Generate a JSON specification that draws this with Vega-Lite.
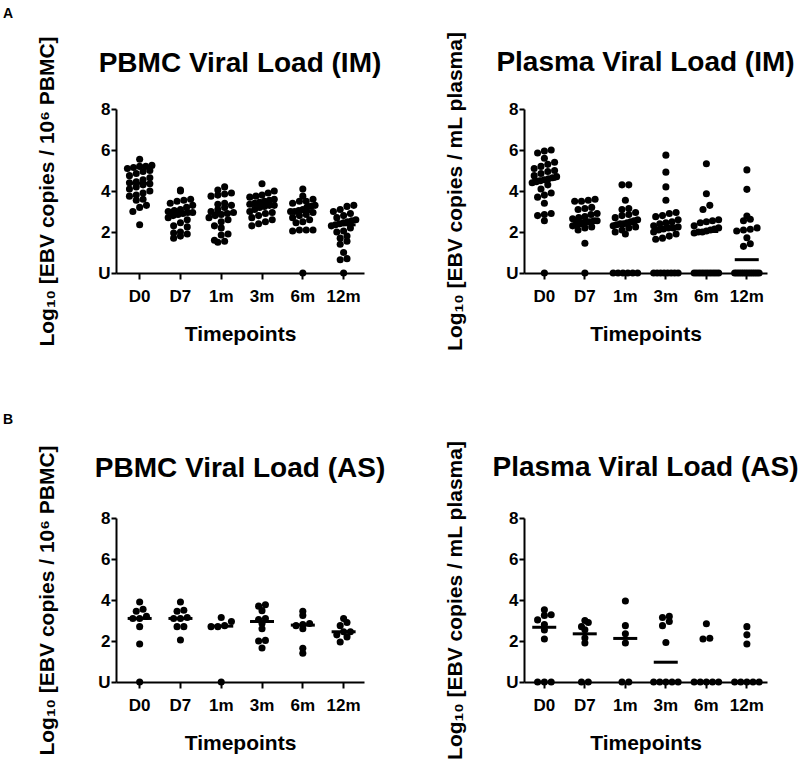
{
  "$schema": "https://vega.github.io/schema/vega-lite/v6.json",
  "padding": {"left": 3, "top": 7, "right": 3, "bottom": 5},
  "background": "white",
  "config": {
    "font": "Liberation Sans",
    "view": {"stroke": null},
    "axis": {"grid": false, "domainColor": "black", "domainWidth": 2, "tickColor": "black", "tickWidth": 2, "labelColor": "black", "titleColor": "black", "labelFont": "Liberation Sans", "titleFont": "Liberation Sans", "labelFontWeight": "bold", "titleFontWeight": "bold", "labelFontSize": 17},
    "axisX": {"labelAngle": 0, "tickSize": 6, "labelPadding": 9, "titleFontSize": 21, "titlePadding": 19, "labelOverlap": false, "labelBound": false},
    "axisY": {"labelPadding": 1, "titleFontSize": 21, "titlePadding": 40},
    "title": {"font": "Liberation Sans", "fontWeight": "bold", "color": "black"}
  },
  "data": {"values": [
    {"p":"PI","t":"D0","v":5.55},{"p":"PI","t":"D0","v":5.25},{"p":"PI","t":"D0","v":5.2},{"p":"PI","t":"D0","v":5.2},{"p":"PI","t":"D0","v":5.15},{"p":"PI","t":"D0","v":5.1},{"p":"PI","t":"D0","v":5.0},{"p":"PI","t":"D0","v":4.95},{"p":"PI","t":"D0","v":4.85},{"p":"PI","t":"D0","v":4.75},{"p":"PI","t":"D0","v":4.65},{"p":"PI","t":"D0","v":4.55},{"p":"PI","t":"D0","v":4.45},{"p":"PI","t":"D0","v":4.4},{"p":"PI","t":"D0","v":4.35},{"p":"PI","t":"D0","v":4.3},{"p":"PI","t":"D0","v":4.2},{"p":"PI","t":"D0","v":4.1},{"p":"PI","t":"D0","v":4.0},{"p":"PI","t":"D0","v":3.9},{"p":"PI","t":"D0","v":3.8},{"p":"PI","t":"D0","v":3.75},{"p":"PI","t":"D0","v":3.6},{"p":"PI","t":"D0","v":3.55},{"p":"PI","t":"D0","v":3.3},{"p":"PI","t":"D0","v":3.2},{"p":"PI","t":"D0","v":3.0},{"p":"PI","t":"D0","v":2.35},
    {"p":"PI","t":"D7","v":4.05},{"p":"PI","t":"D7","v":4.0},{"p":"PI","t":"D7","v":3.6},{"p":"PI","t":"D7","v":3.55},{"p":"PI","t":"D7","v":3.5},{"p":"PI","t":"D7","v":3.4},{"p":"PI","t":"D7","v":3.3},{"p":"PI","t":"D7","v":3.2},{"p":"PI","t":"D7","v":3.1},{"p":"PI","t":"D7","v":3.05},{"p":"PI","t":"D7","v":3.0},{"p":"PI","t":"D7","v":2.95},{"p":"PI","t":"D7","v":2.95},{"p":"PI","t":"D7","v":2.9},{"p":"PI","t":"D7","v":2.85},{"p":"PI","t":"D7","v":2.8},{"p":"PI","t":"D7","v":2.7},{"p":"PI","t":"D7","v":2.6},{"p":"PI","t":"D7","v":2.45},{"p":"PI","t":"D7","v":2.3},{"p":"PI","t":"D7","v":2.25},{"p":"PI","t":"D7","v":2.0},{"p":"PI","t":"D7","v":1.95},{"p":"PI","t":"D7","v":1.9},{"p":"PI","t":"D7","v":1.8},{"p":"PI","t":"D7","v":1.7},
    {"p":"PI","t":"1m","v":4.2},{"p":"PI","t":"1m","v":4.05},{"p":"PI","t":"1m","v":3.9},{"p":"PI","t":"1m","v":3.85},{"p":"PI","t":"1m","v":3.8},{"p":"PI","t":"1m","v":3.75},{"p":"PI","t":"1m","v":3.4},{"p":"PI","t":"1m","v":3.35},{"p":"PI","t":"1m","v":3.3},{"p":"PI","t":"1m","v":3.2},{"p":"PI","t":"1m","v":3.1},{"p":"PI","t":"1m","v":3.0},{"p":"PI","t":"1m","v":2.95},{"p":"PI","t":"1m","v":2.9},{"p":"PI","t":"1m","v":2.85},{"p":"PI","t":"1m","v":2.8},{"p":"PI","t":"1m","v":2.7},{"p":"PI","t":"1m","v":2.6},{"p":"PI","t":"1m","v":2.5},{"p":"PI","t":"1m","v":2.3},{"p":"PI","t":"1m","v":2.2},{"p":"PI","t":"1m","v":1.9},{"p":"PI","t":"1m","v":1.85},{"p":"PI","t":"1m","v":1.6},{"p":"PI","t":"1m","v":1.55},{"p":"PI","t":"1m","v":1.5},
    {"p":"PI","t":"3m","v":4.35},{"p":"PI","t":"3m","v":4.0},{"p":"PI","t":"3m","v":3.9},{"p":"PI","t":"3m","v":3.8},{"p":"PI","t":"3m","v":3.75},{"p":"PI","t":"3m","v":3.7},{"p":"PI","t":"3m","v":3.6},{"p":"PI","t":"3m","v":3.55},{"p":"PI","t":"3m","v":3.5},{"p":"PI","t":"3m","v":3.45},{"p":"PI","t":"3m","v":3.4},{"p":"PI","t":"3m","v":3.35},{"p":"PI","t":"3m","v":3.3},{"p":"PI","t":"3m","v":3.3},{"p":"PI","t":"3m","v":3.25},{"p":"PI","t":"3m","v":3.2},{"p":"PI","t":"3m","v":3.1},{"p":"PI","t":"3m","v":3.0},{"p":"PI","t":"3m","v":2.95},{"p":"PI","t":"3m","v":2.9},{"p":"PI","t":"3m","v":2.8},{"p":"PI","t":"3m","v":2.7},{"p":"PI","t":"3m","v":2.6},{"p":"PI","t":"3m","v":2.5},{"p":"PI","t":"3m","v":2.4},{"p":"PI","t":"3m","v":2.3},
    {"p":"PI","t":"6m","v":4.1},{"p":"PI","t":"6m","v":3.75},{"p":"PI","t":"6m","v":3.6},{"p":"PI","t":"6m","v":3.5},{"p":"PI","t":"6m","v":3.5},{"p":"PI","t":"6m","v":3.4},{"p":"PI","t":"6m","v":3.3},{"p":"PI","t":"6m","v":3.25},{"p":"PI","t":"6m","v":3.2},{"p":"PI","t":"6m","v":3.1},{"p":"PI","t":"6m","v":3.05},{"p":"PI","t":"6m","v":3.0},{"p":"PI","t":"6m","v":3.0},{"p":"PI","t":"6m","v":2.95},{"p":"PI","t":"6m","v":2.85},{"p":"PI","t":"6m","v":2.8},{"p":"PI","t":"6m","v":2.7},{"p":"PI","t":"6m","v":2.6},{"p":"PI","t":"6m","v":2.5},{"p":"PI","t":"6m","v":2.45},{"p":"PI","t":"6m","v":2.1},{"p":"PI","t":"6m","v":2.1},{"p":"PI","t":"6m","v":2.1},{"p":"PI","t":"6m","v":2.05},{"p":"PI","t":"6m","v":0},
    {"p":"PI","t":"12m","v":3.3},{"p":"PI","t":"12m","v":3.25},{"p":"PI","t":"12m","v":3.1},{"p":"PI","t":"12m","v":3.0},{"p":"PI","t":"12m","v":2.9},{"p":"PI","t":"12m","v":2.8},{"p":"PI","t":"12m","v":2.7},{"p":"PI","t":"12m","v":2.6},{"p":"PI","t":"12m","v":2.55},{"p":"PI","t":"12m","v":2.5},{"p":"PI","t":"12m","v":2.45},{"p":"PI","t":"12m","v":2.4},{"p":"PI","t":"12m","v":2.35},{"p":"PI","t":"12m","v":2.3},{"p":"PI","t":"12m","v":2.2},{"p":"PI","t":"12m","v":2.05},{"p":"PI","t":"12m","v":2.0},{"p":"PI","t":"12m","v":1.8},{"p":"PI","t":"12m","v":1.7},{"p":"PI","t":"12m","v":1.55},{"p":"PI","t":"12m","v":1.4},{"p":"PI","t":"12m","v":1.0},{"p":"PI","t":"12m","v":0.7},{"p":"PI","t":"12m","v":0.65},{"p":"PI","t":"12m","v":0},

    {"p":"LI","t":"D0","v":6.0},{"p":"LI","t":"D0","v":5.95},{"p":"LI","t":"D0","v":5.85},{"p":"LI","t":"D0","v":5.6},{"p":"LI","t":"D0","v":5.4},{"p":"LI","t":"D0","v":5.3},{"p":"LI","t":"D0","v":5.2},{"p":"LI","t":"D0","v":5.1},{"p":"LI","t":"D0","v":5.0},{"p":"LI","t":"D0","v":4.95},{"p":"LI","t":"D0","v":4.85},{"p":"LI","t":"D0","v":4.75},{"p":"LI","t":"D0","v":4.7},{"p":"LI","t":"D0","v":4.65},{"p":"LI","t":"D0","v":4.6},{"p":"LI","t":"D0","v":4.55},{"p":"LI","t":"D0","v":4.5},{"p":"LI","t":"D0","v":4.45},{"p":"LI","t":"D0","v":4.4},{"p":"LI","t":"D0","v":4.3},{"p":"LI","t":"D0","v":4.1},{"p":"LI","t":"D0","v":3.9},{"p":"LI","t":"D0","v":3.8},{"p":"LI","t":"D0","v":3.7},{"p":"LI","t":"D0","v":3.4},{"p":"LI","t":"D0","v":2.9},{"p":"LI","t":"D0","v":2.85},{"p":"LI","t":"D0","v":2.8},{"p":"LI","t":"D0","v":2.55},{"p":"LI","t":"D0","v":0},
    {"p":"LI","t":"D7","v":3.6},{"p":"LI","t":"D7","v":3.55},{"p":"LI","t":"D7","v":3.5},{"p":"LI","t":"D7","v":3.5},{"p":"LI","t":"D7","v":3.2},{"p":"LI","t":"D7","v":3.15},{"p":"LI","t":"D7","v":3.1},{"p":"LI","t":"D7","v":2.9},{"p":"LI","t":"D7","v":2.85},{"p":"LI","t":"D7","v":2.75},{"p":"LI","t":"D7","v":2.7},{"p":"LI","t":"D7","v":2.65},{"p":"LI","t":"D7","v":2.55},{"p":"LI","t":"D7","v":2.55},{"p":"LI","t":"D7","v":2.5},{"p":"LI","t":"D7","v":2.5},{"p":"LI","t":"D7","v":2.45},{"p":"LI","t":"D7","v":2.4},{"p":"LI","t":"D7","v":2.4},{"p":"LI","t":"D7","v":2.35},{"p":"LI","t":"D7","v":2.3},{"p":"LI","t":"D7","v":2.25},{"p":"LI","t":"D7","v":2.2},{"p":"LI","t":"D7","v":2.1},{"p":"LI","t":"D7","v":1.45},{"p":"LI","t":"D7","v":0},
    {"p":"LI","t":"1m","v":4.3},{"p":"LI","t":"1m","v":4.3},{"p":"LI","t":"1m","v":3.55},{"p":"LI","t":"1m","v":3.15},{"p":"LI","t":"1m","v":3.1},{"p":"LI","t":"1m","v":2.95},{"p":"LI","t":"1m","v":2.85},{"p":"LI","t":"1m","v":2.8},{"p":"LI","t":"1m","v":2.7},{"p":"LI","t":"1m","v":2.6},{"p":"LI","t":"1m","v":2.55},{"p":"LI","t":"1m","v":2.5},{"p":"LI","t":"1m","v":2.45},{"p":"LI","t":"1m","v":2.4},{"p":"LI","t":"1m","v":2.4},{"p":"LI","t":"1m","v":2.35},{"p":"LI","t":"1m","v":2.3},{"p":"LI","t":"1m","v":2.25},{"p":"LI","t":"1m","v":2.2},{"p":"LI","t":"1m","v":2.1},{"p":"LI","t":"1m","v":2.0},{"p":"LI","t":"1m","v":1.9},{"p":"LI","t":"1m","v":0},{"p":"LI","t":"1m","v":0},{"p":"LI","t":"1m","v":0},{"p":"LI","t":"1m","v":0},{"p":"LI","t":"1m","v":0},{"p":"LI","t":"1m","v":0},
    {"p":"LI","t":"3m","v":5.75},{"p":"LI","t":"3m","v":4.92},{"p":"LI","t":"3m","v":4.2},{"p":"LI","t":"3m","v":3.55},{"p":"LI","t":"3m","v":2.95},{"p":"LI","t":"3m","v":2.9},{"p":"LI","t":"3m","v":2.8},{"p":"LI","t":"3m","v":2.75},{"p":"LI","t":"3m","v":2.6},{"p":"LI","t":"3m","v":2.5},{"p":"LI","t":"3m","v":2.45},{"p":"LI","t":"3m","v":2.4},{"p":"LI","t":"3m","v":2.3},{"p":"LI","t":"3m","v":2.25},{"p":"LI","t":"3m","v":2.2},{"p":"LI","t":"3m","v":2.2},{"p":"LI","t":"3m","v":2.15},{"p":"LI","t":"3m","v":2.1},{"p":"LI","t":"3m","v":2.0},{"p":"LI","t":"3m","v":1.9},{"p":"LI","t":"3m","v":1.8},{"p":"LI","t":"3m","v":1.7},{"p":"LI","t":"3m","v":1.65},{"p":"LI","t":"3m","v":0},{"p":"LI","t":"3m","v":0},{"p":"LI","t":"3m","v":0},{"p":"LI","t":"3m","v":0},{"p":"LI","t":"3m","v":0},{"p":"LI","t":"3m","v":0},{"p":"LI","t":"3m","v":0},{"p":"LI","t":"3m","v":0},
    {"p":"LI","t":"6m","v":5.33},{"p":"LI","t":"6m","v":3.87},{"p":"LI","t":"6m","v":3.3},{"p":"LI","t":"6m","v":3.1},{"p":"LI","t":"6m","v":2.6},{"p":"LI","t":"6m","v":2.55},{"p":"LI","t":"6m","v":2.5},{"p":"LI","t":"6m","v":2.45},{"p":"LI","t":"6m","v":2.3},{"p":"LI","t":"6m","v":2.2},{"p":"LI","t":"6m","v":2.15},{"p":"LI","t":"6m","v":2.1},{"p":"LI","t":"6m","v":2.05},{"p":"LI","t":"6m","v":2.0},{"p":"LI","t":"6m","v":2.0},{"p":"LI","t":"6m","v":1.95},{"p":"LI","t":"6m","v":0},{"p":"LI","t":"6m","v":0},{"p":"LI","t":"6m","v":0},{"p":"LI","t":"6m","v":0},{"p":"LI","t":"6m","v":0},{"p":"LI","t":"6m","v":0},{"p":"LI","t":"6m","v":0},{"p":"LI","t":"6m","v":0},{"p":"LI","t":"6m","v":0},{"p":"LI","t":"6m","v":0},
    {"p":"LI","t":"12m","v":5.03},{"p":"LI","t":"12m","v":4.08},{"p":"LI","t":"12m","v":2.78},{"p":"LI","t":"12m","v":2.62},{"p":"LI","t":"12m","v":2.55},{"p":"LI","t":"12m","v":2.2},{"p":"LI","t":"12m","v":2.13},{"p":"LI","t":"12m","v":2.1},{"p":"LI","t":"12m","v":2.05},{"p":"LI","t":"12m","v":1.72},{"p":"LI","t":"12m","v":1.43},{"p":"LI","t":"12m","v":1.3},{"p":"LI","t":"12m","v":0},{"p":"LI","t":"12m","v":0},{"p":"LI","t":"12m","v":0},{"p":"LI","t":"12m","v":0},{"p":"LI","t":"12m","v":0},{"p":"LI","t":"12m","v":0},{"p":"LI","t":"12m","v":0},{"p":"LI","t":"12m","v":0},{"p":"LI","t":"12m","v":0},{"p":"LI","t":"12m","v":0},{"p":"LI","t":"12m","v":0},{"p":"LI","t":"12m","v":0},

    {"p":"PA","t":"D0","v":3.9},{"p":"PA","t":"D0","v":3.55},{"p":"PA","t":"D0","v":3.45},{"p":"PA","t":"D0","v":3.2},{"p":"PA","t":"D0","v":3.1},{"p":"PA","t":"D0","v":3.1},{"p":"PA","t":"D0","v":2.7},{"p":"PA","t":"D0","v":1.85},{"p":"PA","t":"D0","v":0},
    {"p":"PA","t":"D7","v":3.9},{"p":"PA","t":"D7","v":3.5},{"p":"PA","t":"D7","v":3.45},{"p":"PA","t":"D7","v":3.15},{"p":"PA","t":"D7","v":3.1},{"p":"PA","t":"D7","v":3.1},{"p":"PA","t":"D7","v":2.7},{"p":"PA","t":"D7","v":2.7},{"p":"PA","t":"D7","v":2.05},
    {"p":"PA","t":"1m","v":3.15},{"p":"PA","t":"1m","v":2.95},{"p":"PA","t":"1m","v":2.75},{"p":"PA","t":"1m","v":2.7},{"p":"PA","t":"1m","v":2.7},{"p":"PA","t":"1m","v":0},
    {"p":"PA","t":"3m","v":3.77},{"p":"PA","t":"3m","v":3.7},{"p":"PA","t":"3m","v":3.48},{"p":"PA","t":"3m","v":3.1},{"p":"PA","t":"3m","v":3.05},{"p":"PA","t":"3m","v":2.85},{"p":"PA","t":"3m","v":2.6},{"p":"PA","t":"3m","v":2.03},{"p":"PA","t":"3m","v":2.0},{"p":"PA","t":"3m","v":1.66},
    {"p":"PA","t":"6m","v":3.45},{"p":"PA","t":"6m","v":3.25},{"p":"PA","t":"6m","v":2.85},{"p":"PA","t":"6m","v":2.8},{"p":"PA","t":"6m","v":2.75},{"p":"PA","t":"6m","v":2.6},{"p":"PA","t":"6m","v":1.65},{"p":"PA","t":"6m","v":1.4},
    {"p":"PA","t":"12m","v":3.1},{"p":"PA","t":"12m","v":2.9},{"p":"PA","t":"12m","v":2.75},{"p":"PA","t":"12m","v":2.45},{"p":"PA","t":"12m","v":2.45},{"p":"PA","t":"12m","v":2.3},{"p":"PA","t":"12m","v":2.2},{"p":"PA","t":"12m","v":1.95},

    {"p":"LA","t":"D0","v":3.52},{"p":"LA","t":"D0","v":3.28},{"p":"LA","t":"D0","v":3.25},{"p":"LA","t":"D0","v":3.03},{"p":"LA","t":"D0","v":2.8},{"p":"LA","t":"D0","v":2.54},{"p":"LA","t":"D0","v":2.1},{"p":"LA","t":"D0","v":0},{"p":"LA","t":"D0","v":0},{"p":"LA","t":"D0","v":0},
    {"p":"LA","t":"D7","v":3.0},{"p":"LA","t":"D7","v":2.9},{"p":"LA","t":"D7","v":2.7},{"p":"LA","t":"D7","v":2.55},{"p":"LA","t":"D7","v":2.15},{"p":"LA","t":"D7","v":1.9},{"p":"LA","t":"D7","v":0},{"p":"LA","t":"D7","v":0},
    {"p":"LA","t":"1m","v":3.95},{"p":"LA","t":"1m","v":2.75},{"p":"LA","t":"1m","v":2.35},{"p":"LA","t":"1m","v":1.9},{"p":"LA","t":"1m","v":0},{"p":"LA","t":"1m","v":0},
    {"p":"LA","t":"3m","v":3.2},{"p":"LA","t":"3m","v":3.15},{"p":"LA","t":"3m","v":2.95},{"p":"LA","t":"3m","v":2.75},{"p":"LA","t":"3m","v":1.93},{"p":"LA","t":"3m","v":0},{"p":"LA","t":"3m","v":0},{"p":"LA","t":"3m","v":0},{"p":"LA","t":"3m","v":0},{"p":"LA","t":"3m","v":0},
    {"p":"LA","t":"6m","v":2.84},{"p":"LA","t":"6m","v":2.13},{"p":"LA","t":"6m","v":2.1},{"p":"LA","t":"6m","v":0},{"p":"LA","t":"6m","v":0},{"p":"LA","t":"6m","v":0},{"p":"LA","t":"6m","v":0},{"p":"LA","t":"6m","v":0},
    {"p":"LA","t":"12m","v":2.7},{"p":"LA","t":"12m","v":2.3},{"p":"LA","t":"12m","v":1.85},{"p":"LA","t":"12m","v":0},{"p":"LA","t":"12m","v":0},{"p":"LA","t":"12m","v":0},{"p":"LA","t":"12m","v":0},{"p":"LA","t":"12m","v":0}
  ]},
  "bounds": "flush",
  "spacing": 409,
  "vconcat": [
    {
      "title": {"text": "A", "fontSize": 14, "anchor": "start", "frame": "group", "dx": -113, "offset": 10},
      "bounds": "flush",
      "spacing": 160,
      "hconcat": [
        {
          "width": 248, "height": 164,
          "title": {"text": "PBMC Viral Load (IM)", "fontSize": 28, "anchor": "middle", "frame": "group", "offset": -42},
          "transform": [
            {"filter": "datum.p == 'PI'"},
            {"bin": {"step": 0.35, "extent": [-0.175, 8.575], "nice": false}, "field": "v", "as": "vb"},
            {"window": [{"op": "row_number", "as": "rn"}, {"op": "count", "as": "n"}], "groupby": ["t", "vb"], "sort": [{"field": "v"}], "frame": [null, null]},
            {"calculate": "(datum.rn - (datum.n + 1) / 2) * min(1, 3.6 / max(datum.n - 1, 1))", "as": "off"}
          ],
          "layer": [
            {"mark": {"type": "circle", "size": 50, "color": "black", "opacity": 1},
             "encoding": {
               "x": {"field": "t", "type": "nominal", "sort": ["D0","D7","1m","3m","6m","12m"], "scale": {"type": "band", "paddingInner": 0, "paddingOuter": 0.04, "align": 1}, "axis": {"title": "Timepoints"}},
               "xOffset": {"field": "off", "type": "quantitative", "scale": {"domain": [-3, 3]}},
               "y": {"field": "v", "type": "quantitative", "scale": {"domain": [0, 8], "nice": false, "zero": true}, "axis": {"title": "Log₁₀ [EBV copies / 10⁶ PBMC]", "values": [0,2,4,6,8], "tickSize": 5, "labelExpr": "datum.value == 0 ? 'U' : datum.label"}}
             }},
            {"mark": {"type": "tick", "color": "black", "size": 24, "thickness": 3},
             "encoding": {
               "x": {"field": "t", "type": "nominal", "sort": ["D0","D7","1m","3m","6m","12m"]},
               "y": {"aggregate": "median", "field": "v", "type": "quantitative"}
             }}
          ]
        },
        {
          "width": 243, "height": 164,
          "title": {"text": "Plasma Viral Load (IM)", "fontSize": 28, "anchor": "middle", "frame": "group", "offset": -46},
          "transform": [
            {"filter": "datum.p == 'LI'"},
            {"bin": {"step": 0.35, "extent": [-0.175, 8.575], "nice": false}, "field": "v", "as": "vb"},
            {"window": [{"op": "row_number", "as": "rn"}, {"op": "count", "as": "n"}], "groupby": ["t", "vb"], "sort": [{"field": "v"}], "frame": [null, null]},
            {"calculate": "(datum.rn - (datum.n + 1) / 2) * min(1, 3.6 / max(datum.n - 1, 1))", "as": "off"}
          ],
          "layer": [
            {"mark": {"type": "circle", "size": 50, "color": "black", "opacity": 1},
             "encoding": {
               "x": {"field": "t", "type": "nominal", "sort": ["D0","D7","1m","3m","6m","12m"], "scale": {"type": "band", "paddingInner": 0, "paddingOuter": 0}, "axis": {"title": "Timepoints"}},
               "xOffset": {"field": "off", "type": "quantitative", "scale": {"domain": [-3, 3]}},
               "y": {"field": "v", "type": "quantitative", "scale": {"domain": [0, 8], "nice": false, "zero": true}, "axis": {"title": "Log₁₀ [EBV copies / mL plasma]", "values": [0,1,2,3,4,5,6,7,8], "tickSize": {"condition": {"test": "datum.value % 2 == 1", "value": 3}, "value": 5}, "labelExpr": "datum.value == 0 ? 'U' : (datum.value % 2 == 1 ? '' : datum.label)"}}
             }},
            {"mark": {"type": "tick", "color": "black", "size": 24, "thickness": 3},
             "encoding": {
               "x": {"field": "t", "type": "nominal", "sort": ["D0","D7","1m","3m","6m","12m"]},
               "y": {"aggregate": "median", "field": "v", "type": "quantitative"}
             }}
          ]
        }
      ]
    },
    {
      "title": {"text": "B", "fontSize": 14, "anchor": "start", "frame": "group", "dx": -113, "offset": 13},
      "bounds": "flush",
      "spacing": 160,
      "hconcat": [
        {
          "width": 248, "height": 164,
          "title": {"text": "PBMC Viral Load (AS)", "fontSize": 28, "anchor": "middle", "frame": "group", "offset": -38},
          "transform": [
            {"filter": "datum.p == 'PA'"},
            {"bin": {"step": 0.35, "extent": [-0.175, 8.575], "nice": false}, "field": "v", "as": "vb"},
            {"window": [{"op": "row_number", "as": "rn"}, {"op": "count", "as": "n"}], "groupby": ["t", "vb"], "sort": [{"field": "v"}], "frame": [null, null]},
            {"calculate": "(datum.rn - (datum.n + 1) / 2) * min(1, 3.6 / max(datum.n - 1, 1))", "as": "off"}
          ],
          "layer": [
            {"mark": {"type": "circle", "size": 50, "color": "black", "opacity": 1},
             "encoding": {
               "x": {"field": "t", "type": "nominal", "sort": ["D0","D7","1m","3m","6m","12m"], "scale": {"type": "band", "paddingInner": 0, "paddingOuter": 0.04, "align": 1}, "axis": {"title": "Timepoints"}},
               "xOffset": {"field": "off", "type": "quantitative", "scale": {"domain": [-3, 3]}},
               "y": {"field": "v", "type": "quantitative", "scale": {"domain": [0, 8], "nice": false, "zero": true}, "axis": {"title": "Log₁₀ [EBV copies / 10⁶ PBMC]", "values": [0,2,4,6,8], "tickSize": 5, "labelExpr": "datum.value == 0 ? 'U' : datum.label"}}
             }},
            {"mark": {"type": "tick", "color": "black", "size": 24, "thickness": 3},
             "encoding": {
               "x": {"field": "t", "type": "nominal", "sort": ["D0","D7","1m","3m","6m","12m"]},
               "y": {"aggregate": "median", "field": "v", "type": "quantitative"}
             }}
          ]
        },
        {
          "width": 243, "height": 164,
          "title": {"text": "Plasma Viral Load (AS)", "fontSize": 28, "anchor": "middle", "frame": "group", "offset": -42},
          "transform": [
            {"filter": "datum.p == 'LA'"},
            {"bin": {"step": 0.35, "extent": [-0.175, 8.575], "nice": false}, "field": "v", "as": "vb"},
            {"window": [{"op": "row_number", "as": "rn"}, {"op": "count", "as": "n"}], "groupby": ["t", "vb"], "sort": [{"field": "v"}], "frame": [null, null]},
            {"calculate": "(datum.rn - (datum.n + 1) / 2) * min(1, 3.6 / max(datum.n - 1, 1))", "as": "off"}
          ],
          "layer": [
            {"mark": {"type": "circle", "size": 50, "color": "black", "opacity": 1},
             "encoding": {
               "x": {"field": "t", "type": "nominal", "sort": ["D0","D7","1m","3m","6m","12m"], "scale": {"type": "band", "paddingInner": 0, "paddingOuter": 0}, "axis": {"title": "Timepoints"}},
               "xOffset": {"field": "off", "type": "quantitative", "scale": {"domain": [-3, 3]}},
               "y": {"field": "v", "type": "quantitative", "scale": {"domain": [0, 8], "nice": false, "zero": true}, "axis": {"title": "Log₁₀ [EBV copies / mL plasma]", "values": [0,1,2,3,4,5,6,7,8], "tickSize": {"condition": {"test": "datum.value % 2 == 1", "value": 3}, "value": 5}, "labelExpr": "datum.value == 0 ? 'U' : (datum.value % 2 == 1 ? '' : datum.label)"}}
             }},
            {"mark": {"type": "tick", "color": "black", "size": 24, "thickness": 3},
             "encoding": {
               "x": {"field": "t", "type": "nominal", "sort": ["D0","D7","1m","3m","6m","12m"]},
               "y": {"aggregate": "median", "field": "v", "type": "quantitative"}
             }}
          ]
        }
      ]
    }
  ]
}
